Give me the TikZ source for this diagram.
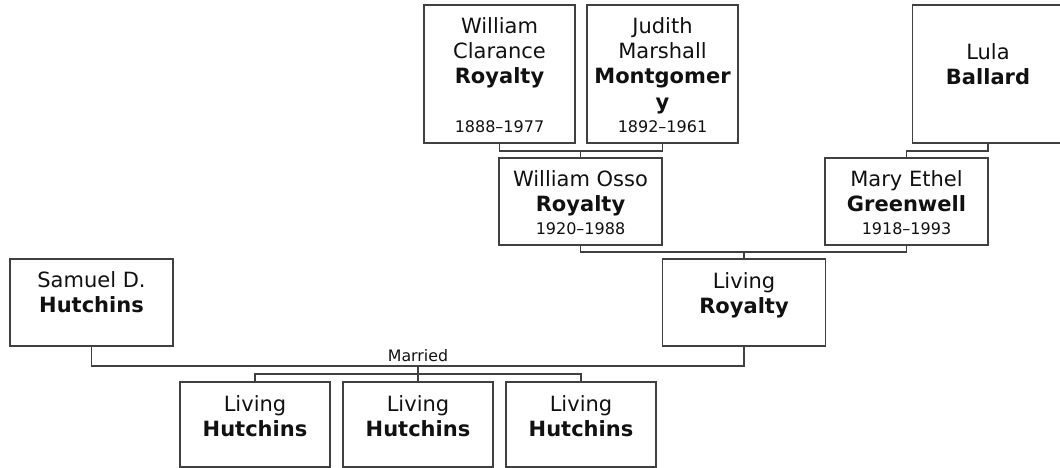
\documentclass[tikz,border=0pt]{standalone}
\usepackage{fontspec}
\setmainfont{DejaVu Sans}
\definecolor{boxc}{HTML}{404040}
\definecolor{txt}{HTML}{111111}
\tikzset{
  person/.style={draw=boxc, line width=1.3pt, fill=white, inner sep=0pt},
  boxA/.style={person, minimum width=151pt, minimum height=138pt},
  boxB/.style={person, minimum width=163pt, minimum height=87pt},
  boxC/.style={person, minimum width=150pt, minimum height=85pt},
  nm/.style={anchor=north, inner sep=0pt, align=center, text=txt, font=\fontsize{21}{25.2}\selectfont},
  dt/.style={anchor=base, inner sep=0pt, text=txt, font=\fontsize{16}{19}\selectfont},
  conn/.style={draw=boxc, line width=1.3pt},
  lbl/.style={anchor=base, inner sep=0pt, text=txt, font=\fontsize{15.8}{19}\selectfont}
}
\newcommand{\fst}{\rule{0pt}{17pt}}
\begin{document}
\begin{tikzpicture}[x=1pt,y=-1pt]
\useasboundingbox (0,0) rectangle (1060,468);
% boxes
\node[boxA] (wc) at (499.5,74) {};
\node[boxA] (jm) at (662.5,74) {};
\node[boxA] (lb) at (988,74) {};
\node[boxB] (wo) at (580.5,201.5) {};
\node[boxB] (me) at (906.5,201.5) {};
\node[boxB] (lr) at (744,302.5) {};
\node[boxB] (sh) at (91.5,302.5) {};
\node[boxC] (c1) at (255,424.5) {};
\node[boxC] (c2) at (418,424.5) {};
\node[boxC] (c3) at (581,424.5) {};
% texts
\node[nm] (wc-n) at ([yshift=-12pt]wc.north) {\fst William\\Clarance\\\textbf{Royalty}};
\node[dt] (wc-d) at ([yshift=11.5pt]wc.south) {1888\textendash1977};
\node[nm] (jm-n) at ([yshift=-12pt]jm.north) {\fst Judith\\Marshall\\\textbf{Montgomer}\\\textbf{y}};
\node[dt] (jm-d) at ([yshift=11.5pt]jm.south) {1892\textendash1961};
\node[nm] (lb-n) at ([yshift=-38pt]lb.north) {\fst Lula\\\textbf{Ballard}};
\node[nm] (wo-n) at ([yshift=-12pt]wo.north) {\fst William Osso\\\textbf{Royalty}};
\node[dt] (wo-d) at ([yshift=11.5pt]wo.south) {1920\textendash1988};
\node[nm] (me-n) at ([yshift=-12pt]me.north) {\fst Mary Ethel\\\textbf{Greenwell}};
\node[dt] (me-d) at ([yshift=11.5pt]me.south) {1918\textendash1993};
\node[nm] (lr-n) at ([yshift=-13pt]lr.north) {\fst Living\\\textbf{Royalty}};
\node[nm] (sh-n) at ([yshift=-12pt]sh.north) {\fst Samuel D.\\\textbf{Hutchins}};
\node[nm] (c1-n) at ([yshift=-13pt]c1.north) {\fst Living\\\textbf{Hutchins}};
\node[nm] (c2-n) at ([yshift=-13pt]c2.north) {\fst Living\\\textbf{Hutchins}};
\node[nm] (c3-n) at ([yshift=-13pt]c3.north) {\fst Living\\\textbf{Hutchins}};
% connectors
\coordinate (b1) at (wo.north |- 0,151);
\draw[conn] (wc.south) |- (b1) -| (jm.south);
\draw[conn] (b1) -- (wo.north);
\draw[conn] (lb.south) |- (me.north |- 0,151) -- (me.north);
\coordinate (b3) at (lr.north |- 0,252);
\draw[conn] (wo.south) |- (b3) -| (me.south);
\draw[conn] (b3) -- (lr.north);
\coordinate (m) at (c2.north |- 0,366);
\draw[conn] (sh.south) |- (m) -| (lr.south);
\node[lbl] (mar) at ([yshift=4.3pt]m) {Married};
\coordinate (cb) at (c2.north |- 0,374);
\draw[conn] (m) -- (cb);
\draw[conn] (c1.north) |- (cb) -| (c3.north);
\draw[conn] (cb) -- (c2.north);
\end{tikzpicture}
\end{document}
